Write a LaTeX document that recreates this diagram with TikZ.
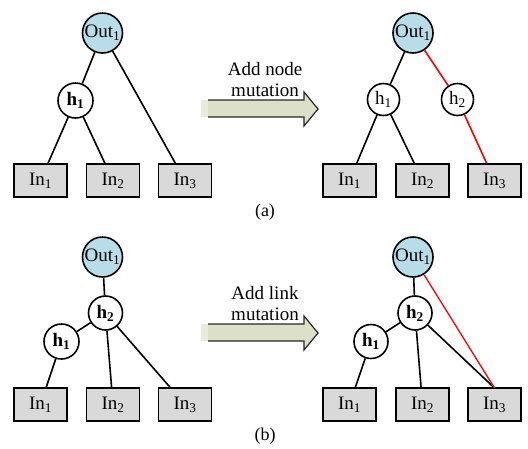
\documentclass[tikz,border=0pt]{standalone}
\usepackage{fontspec}
\setmainfont{Liberation Serif}
\begin{document}
\begin{tikzpicture}[x=1pt,y=-1pt,
  every node/.style={font=\fontsize{19}{22}\selectfont},
  outnode/.style={circle,draw=black,line width=1.6pt,fill=outblue,minimum size=40pt,inner sep=0pt},
  hid/.style={circle,draw=black,line width=1.6pt,fill=white,minimum size=#1,inner sep=0pt},
  hid/.default=34pt,
  inbox/.style={rectangle,draw=black,line width=1.4pt,fill=boxgray,minimum width=53pt,minimum height=33pt,inner sep=0pt},
  conn/.style={line width=1.6pt,black},
  newconn/.style={line width=1.6pt,red},
  caption/.style={font=\fontsize{18}{21}\selectfont},
  lbl/.style={align=center,font=\fontsize{19}{21}\selectfont}
]
\definecolor{outblue}{HTML}{B7DDE8}
\definecolor{boxgray}{HTML}{D9D9D9}
\definecolor{arrowfill}{HTML}{DCE0C8}
\definecolor{arrowlight}{HTML}{E9ECDB}
\useasboundingbox (0,0) rectangle (528,448);

% ---------- (a) left ----------
\node[outnode] (aO) at (102.5,33) {Out\textsubscript{1}};
\node[hid=35pt] (aH1) at (75.5,100.5) {\textbf{h\textsubscript{1}}};
\node[inbox] (aI1) at (40.5,180.5) {In\textsubscript{1}};
\node[inbox] (aI2) at (113,180.5) {In\textsubscript{2}};
\node[inbox] (aI3) at (185,180.5) {In\textsubscript{3}};
\draw[conn] (aO) -- (aH1);
\draw[conn] (aO) -- (aI3);
\draw[conn] (aH1) -- (aI1);
\draw[conn] (aH1) -- (aI2);

% ---------- (a) right ----------
\node[outnode] (bO) at (413,33) {Out\textsubscript{1}};
\node[hid=32pt] (bH1) at (383.5,99.5) {h\textsubscript{1}};
\node[hid=32pt] (bH2) at (457.5,99.5) {h\textsubscript{2}};
\node[inbox] (bI1) at (349.5,180.5) {In\textsubscript{1}};
\node[inbox] (bI2) at (422.5,180.5) {In\textsubscript{2}};
\node[inbox] (bI3) at (494.5,180.5) {In\textsubscript{3}};
\draw[conn] (bO) -- (bH1);
\draw[newconn] (bO) -- (bH2);
\draw[conn] (bH1) -- (bI1);
\draw[conn] (bH1) -- (bI2);
\draw[newconn] (bH2) -- (bI3);

% ---------- (b) left ----------
\node[outnode] (cO) at (102.5,257) {Out\textsubscript{1}};
\node[hid=34pt] (cH2) at (105.5,313) {\textbf{h\textsubscript{2}}};
\node[hid=35pt] (cH1) at (61.5,341.5) {\textbf{h\textsubscript{1}}};
\node[inbox] (cI1) at (40.5,404.5) {In\textsubscript{1}};
\node[inbox] (cI2) at (113,404.5) {In\textsubscript{2}};
\node[inbox] (cI3) at (185,404.5) {In\textsubscript{3}};
\draw[conn] (cO) -- (cH2);
\draw[conn] (cH2) -- (cH1);
\draw[conn] (cH1) -- (cI1);
\draw[conn] (cH2) -- (cI2);
\draw[conn] (cH2) -- (cI3);

% ---------- (b) right ----------
\node[outnode] (dO) at (413,257) {Out\textsubscript{1}};
\node[hid=34pt] (dH2) at (415,313) {\textbf{h\textsubscript{2}}};
\node[hid=34pt] (dH1) at (371,341.5) {\textbf{h\textsubscript{1}}};
\node[inbox] (dI1) at (349.5,404.5) {In\textsubscript{1}};
\node[inbox] (dI2) at (422.5,404.5) {In\textsubscript{2}};
\node[inbox] (dI3) at (494.5,404.5) {In\textsubscript{3}};
\coordinate (dI3top) at (494.5,388);
\draw[conn] (dO) -- (dH2);
\draw[conn] (dH2) -- (dH1);
\draw[conn] (dH1) -- (dI1);
\draw[conn] (dH2) -- (dI2);
\draw[conn] (dH2) -- (dI3top);
\draw[line width=1.3pt,red] (dO) -- (dI3top);

% ---------- arrows ----------
\foreach \yy in {0,224}{
  \begin{scope}[yshift=-\yy]
    \fill[arrowfill] (208,100) -- (304,100) -- (304,92) -- (318,109) -- (304,126) -- (304,117) -- (208,117) -- cycle;
    \fill[arrowlight] (201,100) rectangle (208,117);
    \draw[line width=1.2pt,black!85,line join=miter] (208,100) -- (304,100) -- (304,92) -- (318,109) -- (304,126) -- (304,117) -- (208,117);
  \end{scope}
}
\node[lbl] (ta) at (265,79) {Add node\\mutation};
\node[lbl] (tb) at (265,303) {Add link\\mutation};

\node[caption] (capa) at (265,212) {(a)};
\node[caption] (capb) at (265,436) {(b)};
\end{tikzpicture}
\end{document}
